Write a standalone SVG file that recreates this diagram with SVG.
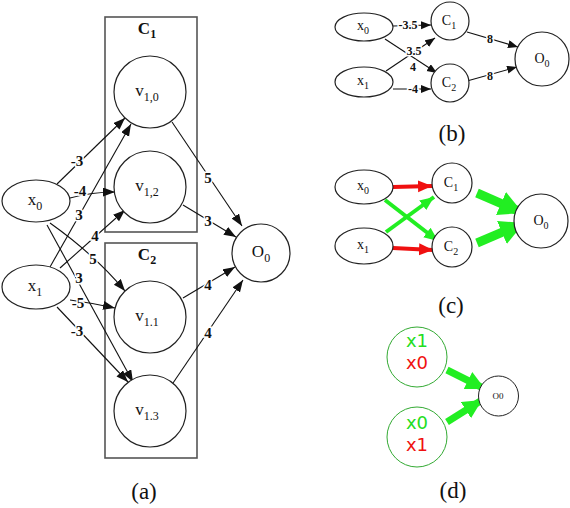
<svg xmlns="http://www.w3.org/2000/svg" width="570" height="508" viewBox="0 0 570 508">
<defs>
<style>
.nd{fill:#fff;stroke:#222;stroke-width:1.2}
.bx{fill:none;stroke:#555;stroke-width:1.6}
.t{font-family:"Liberation Serif","Times New Roman",serif;fill:#111}
.lbl{font-family:"Liberation Serif","Times New Roman",serif;font-weight:bold;fill:#111;text-anchor:middle;stroke:#fff;stroke-width:3;paint-order:stroke}
.e{stroke:#111;stroke-width:1.1;fill:none}
.cap{font-family:"Liberation Serif","Times New Roman",serif;font-size:23px;fill:#111;text-anchor:middle}
.red{stroke:#f01010;fill:none}
.grn{stroke:#22ee22;fill:none}
.dt{font-family:"DejaVu Sans",Arial,sans-serif;font-size:18px;text-anchor:middle}
</style>
<marker id="ah" markerUnits="userSpaceOnUse" markerWidth="13" markerHeight="10" refX="12" refY="4.5" orient="auto"><path d="M0,0 L12,4.5 L0,9 z" fill="#111"/></marker>
<marker id="ahs" markerUnits="userSpaceOnUse" markerWidth="11" markerHeight="9" refX="10" refY="4" orient="auto"><path d="M0,0 L10,4 L0,8 z" fill="#111"/></marker>
<marker id="ar" markerUnits="userSpaceOnUse" markerWidth="15" markerHeight="13" refX="14" refY="6" orient="auto"><path d="M0,0 L14,6 L0,12 z" fill="#f01010"/></marker>
<marker id="ag" markerUnits="userSpaceOnUse" markerWidth="15" markerHeight="13" refX="14" refY="6" orient="auto"><path d="M0,0 L14,6 L0,12 z" fill="#22ee22"/></marker>
<marker id="agb" markerUnits="userSpaceOnUse" markerWidth="26" markerHeight="26" refX="24" refY="12.5" orient="auto"><path d="M0,0 L24,12.5 L0,25 z" fill="#22ee22"/></marker>
<marker id="agd" markerUnits="userSpaceOnUse" markerWidth="20" markerHeight="20" refX="19" refY="9.5" orient="auto"><path d="M0,0 L19,9.5 L0,19 z" fill="#22ee22"/></marker>
</defs>
<rect width="570" height="508" fill="#fff"/>

<!-- Panel (a) -->
<g id="a-boxes">
<rect class="bx" x="105" y="17" width="92" height="215"/>
<text class="t" x="147" y="34" font-size="17" font-weight="bold" text-anchor="middle">C<tspan font-size="12" dy="4">1</tspan></text>
<rect class="bx" x="105" y="243" width="92" height="215"/>
<text class="t" x="147" y="260" font-size="17" font-weight="bold" text-anchor="middle">C<tspan font-size="12" dy="4">2</tspan></text>
</g>
<g id="a-connectors">
<line class="e" x1="57" y1="184" x2="125" y2="118" marker-end="url(#ah)"/>
<line class="e" x1="50" y1="267" x2="131" y2="124" marker-end="url(#ah)"/>
<path class="e" d="M70,198 Q92,192 115,192" marker-end="url(#ah)"/>
<line class="e" x1="60" y1="268" x2="125" y2="210" marker-end="url(#ah)"/>
<path class="e" d="M50,223 Q95,255 125,291" marker-end="url(#ah)"/>
<line class="e" x1="47" y1="225" x2="133" y2="382" marker-end="url(#ah)"/>
<path class="e" d="M70,300 Q92,303 115,308" marker-end="url(#ah)"/>
<line class="e" x1="57" y1="307" x2="128" y2="382" marker-end="url(#ah)"/>
<line class="e" x1="172" y1="122" x2="242" y2="226" marker-end="url(#ah)"/>
<line class="e" x1="183" y1="205" x2="236" y2="237" marker-end="url(#ah)"/>
<line class="e" x1="183" y1="298" x2="235" y2="267" marker-end="url(#ah)"/>
<line class="e" x1="173" y1="383" x2="243" y2="280" marker-end="url(#ah)"/>
<g font-size="15">
<text class="lbl" x="77" y="166">-3</text>
<text class="lbl" x="80" y="196">-4</text>
<text class="lbl" x="79" y="220">3</text>
<text class="lbl" x="95" y="241">4</text>
<text class="lbl" x="93" y="264">5</text>
<text class="lbl" x="79" y="283">3</text>
<text class="lbl" x="78" y="308">-5</text>
<text class="lbl" x="77" y="336">-3</text>
<text class="lbl" x="208" y="183">5</text>
<text class="lbl" x="208" y="226">3</text>
<text class="lbl" x="208" y="290">4</text>
<text class="lbl" x="208" y="338">4</text>
</g>
</g>
<g id="a-x0"><ellipse class="nd" cx="36" cy="201" rx="34" ry="21"/><text class="t" x="35" y="205" font-size="17" text-anchor="middle">x<tspan font-size="12" dy="5">0</tspan></text></g>
<g id="a-x1"><ellipse class="nd" cx="36" cy="287" rx="34" ry="22"/><text class="t" x="35" y="291" font-size="17" text-anchor="middle">x<tspan font-size="12" dy="5">1</tspan></text></g>
<g id="a-v10"><circle class="nd" cx="150" cy="92" r="36"/><text class="t" x="147" y="96" font-size="17" text-anchor="middle">v<tspan font-size="12" dy="5">1,0</tspan></text></g>
<g id="a-v12"><circle class="nd" cx="150" cy="187" r="36"/><text class="t" x="147" y="191" font-size="17" text-anchor="middle">v<tspan font-size="12" dy="5">1,2</tspan></text></g>
<g id="a-v11"><circle class="nd" cx="150" cy="317" r="36"/><text class="t" x="147" y="321" font-size="17" text-anchor="middle">v<tspan font-size="12" dy="5">1.1</tspan></text></g>
<g id="a-v13"><circle class="nd" cx="150" cy="411" r="36"/><text class="t" x="147" y="415" font-size="17" text-anchor="middle">v<tspan font-size="12" dy="5">1.3</tspan></text></g>
<g id="a-o0"><circle class="nd" cx="261" cy="253" r="29"/><text class="t" x="261" y="257" font-size="17" text-anchor="middle">O<tspan font-size="12" dy="5">0</tspan></text></g>
<text class="cap" x="144" y="499">(a)</text>

<!-- Panel (b) -->
<g id="b-connectors">
<line class="e" x1="393" y1="26" x2="431" y2="25" marker-end="url(#ahs)"/>
<line class="e" x1="385" y1="39" x2="437" y2="73" marker-end="url(#ahs)"/>
<line class="e" x1="386" y1="71" x2="435" y2="38" marker-end="url(#ahs)"/>
<line class="e" x1="393" y1="89" x2="431" y2="89" marker-end="url(#ahs)"/>
<line class="e" x1="467" y1="32" x2="518" y2="47" marker-end="url(#ahs)"/>
<line class="e" x1="467" y1="81" x2="517" y2="67" marker-end="url(#ahs)"/>
<g font-size="12">
<text class="lbl" x="408" y="29">-3.5</text>
<text class="lbl" x="414" y="55">3.5</text>
<text class="lbl" x="413" y="71">4</text>
<text class="lbl" x="413" y="93">-4</text>
<text class="lbl" x="490" y="43">8</text>
<text class="lbl" x="490" y="80">8</text>
</g>
</g>
<g id="b-x0"><ellipse class="nd" cx="364" cy="27" rx="29" ry="14"/><text class="t" x="363" y="30" font-size="14" text-anchor="middle">x<tspan font-size="10" dy="4">0</tspan></text></g>
<g id="b-x1"><ellipse class="nd" cx="364" cy="82" rx="29" ry="15"/><text class="t" x="363" y="85" font-size="14" text-anchor="middle">x<tspan font-size="10" dy="4">1</tspan></text></g>
<g id="b-c1"><circle class="nd" cx="450" cy="21" r="19"/><text class="t" x="449" y="25" font-size="14" text-anchor="middle">C<tspan font-size="10" dy="4">1</tspan></text></g>
<g id="b-c2"><circle class="nd" cx="450" cy="83" r="19"/><text class="t" x="449" y="87" font-size="14" text-anchor="middle">C<tspan font-size="10" dy="4">2</tspan></text></g>
<g id="b-o0"><circle class="nd" cx="542" cy="59" r="27"/><text class="t" x="542" y="63" font-size="14" text-anchor="middle">O<tspan font-size="10" dy="4">0</tspan></text></g>
<text class="cap" x="452" y="141">(b)</text>

<!-- Panel (c) -->
<g id="c-connectors">
<line class="red" stroke-width="4" x1="393" y1="187" x2="432" y2="186" marker-end="url(#ar)"/>
<line class="red" stroke-width="4" x1="393" y1="248" x2="433" y2="250" marker-end="url(#ar)"/>
<line class="grn" stroke-width="4" x1="385" y1="200" x2="438" y2="241" marker-end="url(#ag)"/>
<line class="grn" stroke-width="4" x1="386" y1="232" x2="434" y2="197" marker-end="url(#ag)"/>
<line class="grn" stroke-width="9" x1="477" y1="193" x2="523" y2="213" marker-end="url(#agb)"/>
<line class="grn" stroke-width="9" x1="477" y1="243" x2="524" y2="223" marker-end="url(#agb)"/>
</g>
<g id="c-x0"><ellipse class="nd" cx="364" cy="187" rx="29" ry="17"/><text class="t" x="363" y="190" font-size="14" text-anchor="middle">x<tspan font-size="10" dy="4">0</tspan></text></g>
<g id="c-x1"><ellipse class="nd" cx="364" cy="246" rx="29" ry="18"/><text class="t" x="363" y="249" font-size="14" text-anchor="middle">x<tspan font-size="10" dy="4">1</tspan></text></g>
<g id="c-c1"><circle class="nd" cx="452" cy="183" r="20"/><text class="t" x="451" y="187" font-size="14" text-anchor="middle">C<tspan font-size="10" dy="4">1</tspan></text></g>
<g id="c-c2"><circle class="nd" cx="452" cy="247" r="20"/><text class="t" x="451" y="251" font-size="14" text-anchor="middle">C<tspan font-size="10" dy="4">2</tspan></text></g>
<g id="c-o0"><circle class="nd" cx="541" cy="221" r="27"/><text class="t" x="541" y="225" font-size="14" text-anchor="middle">O<tspan font-size="10" dy="4">0</tspan></text></g>
<text class="cap" x="451" y="313">(c)</text>

<!-- Panel (d) -->
<g id="d-connectors">
<line class="grn" stroke-width="7" x1="447" y1="370" x2="485" y2="389" marker-end="url(#agd)"/>
<line class="grn" stroke-width="7" x1="447" y1="422" x2="482" y2="400" marker-end="url(#agd)"/>
</g>
<g id="d-n1"><circle cx="417" cy="357" r="30" fill="#fff" stroke="#3a3" stroke-width="1"/><text class="dt" x="417" y="347" fill="#22dd22">x1</text><text class="dt" x="417" y="369" fill="#f01010">x0</text></g>
<g id="d-n2"><circle cx="417" cy="437" r="30" fill="#fff" stroke="#3a3" stroke-width="1"/><text class="dt" x="417" y="429" fill="#22dd22">x0</text><text class="dt" x="417" y="451" fill="#f01010">x1</text></g>
<g id="d-o0"><circle cx="498.5" cy="396" r="20" fill="#fff" stroke="#222" stroke-width="1"/><text class="t" x="498" y="399" font-size="9" text-anchor="middle">O0</text></g>
<text class="cap" x="453" y="498">(d)</text>
</svg>
